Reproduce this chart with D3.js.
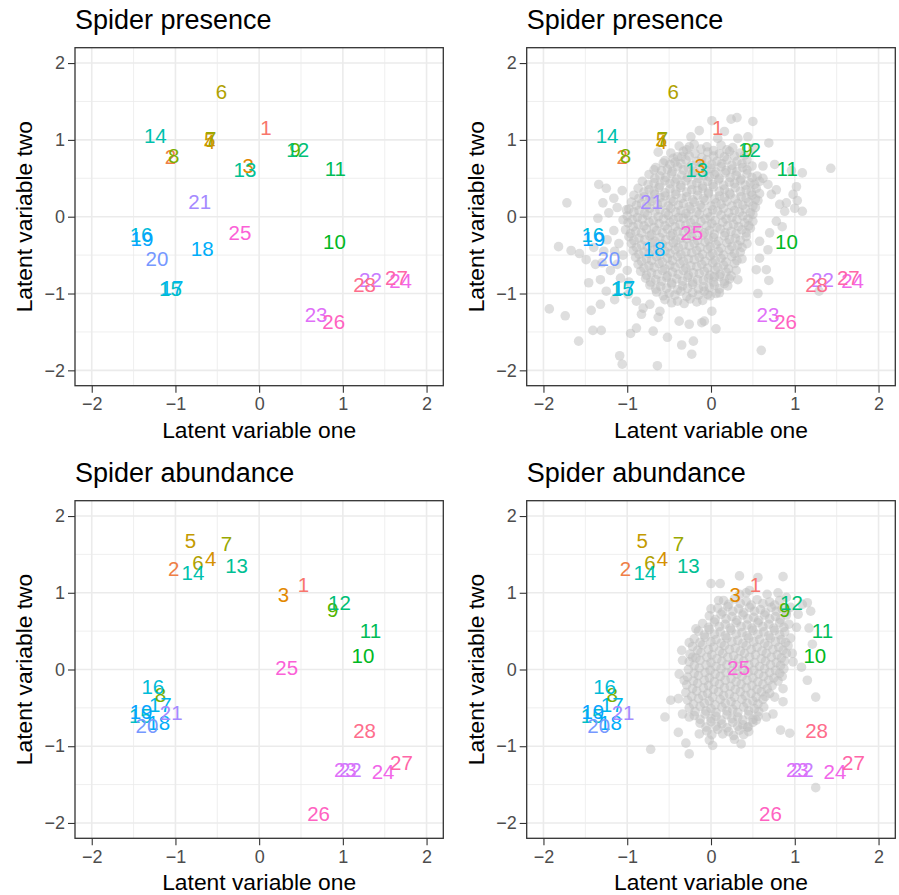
<!DOCTYPE html>
<html>
<head>
<meta charset="utf-8">
<script src="https://cdn.jsdelivr.net/npm/d3@7"></script>
<style>
  body { margin: 0; background: #ffffff; }
  svg { display: block; }
  text { font-family: "Liberation Sans", Arial, Helvetica, sans-serif; }
</style>
</head>
<body>
<svg id="chart" width="899" height="895"></svg>
<script>
// ---- data ---------------------------------------------------------------
const siteIds = [1,2,3,4,5,6,7,8,9,10,11,12,13,14,15,16,17,18,19,20,21,22,23,24,25,26,27,28];

// site scores, presence/absence ordination
const presenceX = [0.08,-1.06,-0.13,-0.59,-0.59,-0.45,-0.58,-1.02,0.43,0.90,0.91,0.46,-0.17,-1.24,
                   -1.06,-1.41,-1.04,-0.68,-1.40,-1.22,-0.71,1.33,0.68,1.69,-0.23,0.89,1.64,1.26];
const presenceY = [1.16,0.78,0.66,0.98,1.00,1.63,1.02,0.79,0.87,-0.32,0.62,0.87,0.61,1.06,
                   -0.94,-0.23,-0.92,-0.42,-0.28,-0.55,0.19,-0.82,-1.28,-0.83,-0.21,-1.36,-0.80,-0.88];

// site scores, abundance ordination
const abundanceX = [0.53,-1.02,0.29,-0.58,-0.82,-0.73,-0.39,-1.18,0.88,1.24,1.33,0.96,-0.27,-0.79,
                    -1.42,-1.27,-1.18,-1.20,-1.41,-1.34,-1.05,1.09,1.03,1.48,0.33,0.71,1.70,1.26];
const abundanceY = [1.10,1.32,0.97,1.45,1.68,1.39,1.64,-0.33,0.78,0.18,0.50,0.87,1.35,1.26,
                    -0.60,-0.22,-0.46,-0.69,-0.55,-0.73,-0.56,-1.31,-1.31,-1.33,0.03,-1.88,-1.22,-0.80];

// sampled latent scores, presence model
const presenceCloud = [
  [-1.93,-1.20],[-1.74,-1.29],[-1.58,-1.62],[-1.41,-1.48],[-1.31,-1.48],[-1.43,-1.22],[-1.32,-1.14],[-1.46,-0.86],
  [-1.32,-0.82],[-1.25,-0.97],[-1.15,-1.08],[-1.09,-1.81],[-1.06,-1.92],[-0.96,-1.52],[-0.89,-1.45],[-0.69,-1.49],
  [-0.64,-1.94],[-0.52,-1.57],[-0.35,-1.67],[-0.21,-1.62],[-0.23,-1.79],[0.06,-1.46],[0.60,-1.74],[0.56,-1.00],
  [1.29,-0.97],[1.43,0.63],
  [-1.72,0.18],[-1.82,-0.39],[-1.67,-0.44],[-1.57,-0.48],[-1.49,-0.56],[-1.34,0.42],[-1.25,0.37],[-1.16,0.24],
  [-1.29,0.18],[-1.06,0.34],[-1.35,-0.02],[-1.16,-0.18],[-1.24,-0.30],[-1.05,-0.04],[-1.01,0.09],
  [-1.10,-0.35],[-1.05,-0.50],[-1.12,-0.62],[-1.00,-0.70],[-1.08,-0.80],[-0.98,-0.85],[-1.20,-0.70],[-1.15,-0.45],
  [-1.28,-0.45],[-1.38,-0.62],[-1.30,-0.60],[-1.40,-0.40],[-1.22,0.05],[-1.12,0.12],
  [-0.63,0.84],[-0.68,0.61],[-0.57,0.70],[-0.45,0.76],[-0.35,0.78],[-0.24,1.04],[-0.14,1.12],[-0.26,0.91],
  [-0.11,-1.38],[-0.38,-1.36],[-0.26,-1.40],[-0.81,-1.19],[-0.83,-1.27],[-0.73,-1.14],[-0.63,-1.31],[-0.61,-1.23],
  [-0.99,-1.01],[-0.89,-1.10],
  [0.01,1.25],[0.24,1.27],[0.31,1.29],[0.50,1.24],[0.69,0.96],[0.62,0.66],[0.76,0.68],[0.50,0.89],[0.40,0.80],
  [0.44,1.04],[0.32,1.02],[0.16,1.11],[0.08,1.02],
  [0.96,0.60],[1.09,0.57],[1.02,0.39],[0.98,0.29],[1.03,0.21],[0.82,0.16],[0.90,0.18],[0.88,0.07],[1.00,0.11],
  [1.09,0.07],[0.62,0.50],[0.68,0.42],[0.72,0.29],[0.78,0.35],
  [0.78,-0.06],[0.85,-0.13],[0.70,-0.21],[0.58,-0.32],[0.68,-0.43],[0.58,-0.54],[0.54,-0.69],[0.66,-0.69],
  [0.69,-0.83],[0.32,-0.82],[0.20,-0.90],[0.04,-0.78],[-0.04,-1.01],[0.10,-0.99],[0.01,-1.23],[-0.08,-1.36],
  [-0.38,0.92],[-0.20,0.94],[-0.05,0.91],[0.12,0.93],[0.26,0.90],
  [-0.48,0.83],[-0.33,0.85],[-0.19,0.82],[-0.04,0.84],[0.10,0.82],[0.22,0.85],[0.35,0.83],
  [-0.55,0.73],[-0.43,0.71],[-0.30,0.74],[-0.17,0.72],[-0.05,0.74],[0.07,0.72],[0.19,0.74],[0.31,0.72],[0.43,0.74],
  [-0.66,0.64],[-0.52,0.62],[-0.40,0.65],[-0.27,0.63],[-0.13,0.65],[0.00,0.63],[0.12,0.65],[0.25,0.62],[0.38,0.64],[0.49,0.66],
  [-0.74,0.55],[-0.61,0.53],[-0.47,0.56],[-0.35,0.54],[-0.22,0.56],[-0.09,0.53],[0.04,0.55],[0.17,0.57],[0.30,0.54],[0.43,0.56],[0.55,0.53],
  [-0.82,0.46],[-0.68,0.44],[-0.55,0.47],[-0.43,0.45],[-0.30,0.47],[-0.17,0.44],[-0.04,0.46],[0.09,0.48],[0.22,0.45],[0.35,0.47],[0.47,0.44],[0.58,0.46],
  [-0.87,0.37],[-0.74,0.35],[-0.62,0.38],[-0.49,0.36],[-0.36,0.38],[-0.23,0.35],[-0.10,0.37],[0.03,0.39],[0.16,0.36],[0.29,0.38],[0.42,0.35],[0.54,0.37],
  [-0.92,0.28],[-0.80,0.26],[-0.67,0.29],[-0.55,0.27],[-0.42,0.29],[-0.29,0.26],[-0.16,0.28],[-0.03,0.30],[0.10,0.27],[0.23,0.29],[0.36,0.26],[0.49,0.28],[0.58,0.30],
  [-0.95,0.19],[-0.83,0.17],[-0.71,0.20],[-0.58,0.18],[-0.45,0.20],[-0.33,0.17],[-0.20,0.19],[-0.07,0.21],[0.06,0.18],[0.19,0.20],[0.32,0.17],[0.45,0.19],[0.56,0.21],
  [-0.98,0.10],[-0.86,0.08],[-0.73,0.11],[-0.61,0.09],[-0.48,0.11],[-0.36,0.08],[-0.24,0.10],[-0.11,0.12],[0.02,0.09],[0.15,0.11],[0.28,0.08],[0.41,0.10],[0.53,0.12],
  [-1.00,0.01],[-0.88,-0.01],[-0.76,0.02],[-0.63,0.00],[-0.51,0.02],[-0.39,-0.01],[-0.27,0.01],[-0.14,0.03],[-0.01,0.00],[0.12,0.02],[0.25,-0.01],[0.38,0.01],[0.50,0.03],
  [-0.99,-0.08],[-0.87,-0.10],[-0.74,-0.07],[-0.62,-0.09],[-0.49,-0.07],[-0.37,-0.10],[-0.24,-0.08],[-0.12,-0.06],[0.01,-0.09],[0.14,-0.07],[0.27,-0.10],[0.40,-0.08],[0.50,-0.06],
  [-1.02,-0.17],[-0.90,-0.19],[-0.77,-0.16],[-0.65,-0.18],[-0.52,-0.16],[-0.40,-0.19],[-0.27,-0.17],[-0.15,-0.15],[-0.02,-0.18],[0.11,-0.16],[0.24,-0.19],[0.37,-0.17],[0.47,-0.15],
  [-0.98,-0.26],[-0.86,-0.28],[-0.73,-0.25],[-0.61,-0.27],[-0.48,-0.25],[-0.36,-0.28],[-0.23,-0.26],[-0.10,-0.24],[0.03,-0.27],[0.16,-0.25],[0.29,-0.28],[0.42,-0.26],
  [-0.95,-0.35],[-0.83,-0.37],[-0.70,-0.34],[-0.58,-0.36],[-0.45,-0.34],[-0.33,-0.37],[-0.20,-0.35],[-0.07,-0.33],[0.06,-0.36],[0.19,-0.34],[0.32,-0.37],[0.43,-0.35],
  [-0.93,-0.44],[-0.80,-0.46],[-0.68,-0.43],[-0.55,-0.45],[-0.43,-0.43],[-0.30,-0.46],[-0.17,-0.44],[-0.04,-0.42],[0.09,-0.45],[0.22,-0.43],[0.35,-0.46],
  [-0.90,-0.53],[-0.77,-0.55],[-0.65,-0.52],[-0.52,-0.54],[-0.40,-0.52],[-0.27,-0.55],[-0.14,-0.53],[-0.01,-0.51],[0.12,-0.54],[0.25,-0.52],[0.37,-0.55],
  [-0.87,-0.62],[-0.74,-0.64],[-0.62,-0.61],[-0.49,-0.63],[-0.37,-0.61],[-0.24,-0.64],[-0.11,-0.62],[0.02,-0.60],[0.15,-0.63],[0.28,-0.61],
  [-0.84,-0.71],[-0.71,-0.73],[-0.58,-0.70],[-0.46,-0.72],[-0.33,-0.70],[-0.21,-0.73],[-0.08,-0.71],[0.05,-0.69],[0.18,-0.72],[0.30,-0.70],
  [-0.78,-0.80],[-0.66,-0.82],[-0.53,-0.79],[-0.41,-0.81],[-0.28,-0.79],[-0.16,-0.82],[-0.03,-0.80],[0.10,-0.78],[0.22,-0.81],
  [-0.73,-0.89],[-0.60,-0.91],[-0.47,-0.88],[-0.34,-0.90],[-0.22,-0.88],[-0.09,-0.91],[0.04,-0.89],[0.16,-0.87],
  [-0.65,-0.98],[-0.50,-1.00],[-0.36,-0.97],[-0.22,-0.99],[-0.08,-0.97],[0.06,-1.00],
  [-0.55,-1.08],[-0.40,-1.10],[-0.25,-1.07],[-0.10,-1.09],
  [-0.29,0.87],[-0.12,0.88],[0.03,0.86],[0.19,0.87],
  [-0.40,0.78],[-0.26,0.79],[-0.11,0.77],[0.03,0.79],[0.16,0.78],[0.28,0.79],
  [-0.49,0.68],[-0.36,0.69],[-0.23,0.67],[-0.11,0.69],[0.01,0.68],[0.13,0.69],[0.25,0.67],[0.37,0.69],
  [-0.59,0.60],[-0.46,0.59],[-0.33,0.61],[-0.20,0.59],[-0.06,0.60],[0.06,0.58],[0.18,0.60],[0.31,0.59],[0.43,0.61],
  [-0.67,0.50],[-0.54,0.51],[-0.41,0.49],[-0.28,0.51],[-0.15,0.50],[-0.02,0.52],[0.10,0.50],[0.23,0.51],[0.36,0.49],[0.49,0.51],
  [-0.75,0.42],[-0.61,0.41],[-0.49,0.43],[-0.36,0.41],[-0.23,0.42],[-0.10,0.40],[0.02,0.42],[0.15,0.41],[0.28,0.43],[0.41,0.41],[0.52,0.42],
  [-0.80,0.32],[-0.68,0.33],[-0.55,0.31],[-0.42,0.33],[-0.29,0.32],[-0.16,0.34],[-0.03,0.32],[0.10,0.33],[0.22,0.31],[0.35,0.33],[0.48,0.32],
  [-0.86,0.24],[-0.73,0.23],[-0.61,0.25],[-0.48,0.23],[-0.35,0.24],[-0.22,0.22],[-0.09,0.24],[0.04,0.23],[0.16,0.25],[0.29,0.23],[0.42,0.24],[0.53,0.23],
  [-0.89,0.15],[-0.77,0.14],[-0.64,0.16],[-0.51,0.14],[-0.39,0.15],[-0.26,0.13],[-0.13,0.15],[0.00,0.14],[0.12,0.16],[0.25,0.14],[0.38,0.15],[0.50,0.14],
  [-0.92,0.06],[-0.79,0.05],[-0.67,0.07],[-0.54,0.05],[-0.42,0.06],[-0.30,0.04],[-0.17,0.06],[-0.04,0.05],[0.08,0.07],[0.21,0.05],[0.34,0.06],[0.47,0.05],
  [-0.94,-0.04],[-0.82,-0.03],[-0.69,-0.05],[-0.57,-0.03],[-0.45,-0.04],[-0.33,-0.02],[-0.20,-0.04],[-0.07,-0.03],[0.05,-0.05],[0.18,-0.03],[0.31,-0.04],[0.44,-0.03],
  [-0.93,-0.13],[-0.80,-0.12],[-0.68,-0.14],[-0.55,-0.12],[-0.43,-0.13],[-0.30,-0.11],[-0.18,-0.13],[-0.05,-0.12],[0.07,-0.14],[0.20,-0.12],[0.33,-0.13],[0.45,-0.12],
  [-0.96,-0.22],[-0.83,-0.21],[-0.71,-0.23],[-0.58,-0.21],[-0.46,-0.22],[-0.33,-0.20],[-0.21,-0.22],[-0.08,-0.21],[0.04,-0.23],[0.17,-0.21],[0.30,-0.22],[0.42,-0.21],
  [-0.92,-0.31],[-0.79,-0.30],[-0.67,-0.32],[-0.54,-0.30],[-0.42,-0.31],[-0.29,-0.29],[-0.16,-0.31],[-0.03,-0.30],[0.09,-0.32],[0.22,-0.30],[0.35,-0.31],
  [-0.89,-0.40],[-0.76,-0.39],[-0.64,-0.41],[-0.51,-0.39],[-0.39,-0.40],[-0.26,-0.38],[-0.13,-0.40],[-0.01,-0.39],[0.12,-0.41],[0.25,-0.39],[0.37,-0.40],
  [-0.86,-0.49],[-0.74,-0.48],[-0.61,-0.50],[-0.49,-0.48],[-0.36,-0.49],[-0.23,-0.47],[-0.10,-0.49],[0.02,-0.48],[0.15,-0.50],[0.28,-0.48],
  [-0.83,-0.58],[-0.71,-0.57],[-0.58,-0.59],[-0.46,-0.57],[-0.33,-0.58],[-0.20,-0.56],[-0.07,-0.58],[0.05,-0.57],[0.18,-0.59],[0.31,-0.57],
  [-0.80,-0.67],[-0.68,-0.66],[-0.55,-0.68],[-0.43,-0.66],[-0.30,-0.67],[-0.17,-0.65],[-0.04,-0.67],[0.08,-0.66],[0.21,-0.68],
  [-0.77,-0.76],[-0.64,-0.75],[-0.52,-0.77],[-0.39,-0.75],[-0.27,-0.76],[-0.14,-0.74],[-0.01,-0.76],[0.11,-0.75],[0.24,-0.77],
  [-0.72,-0.85],[-0.59,-0.84],[-0.47,-0.86],[-0.34,-0.84],[-0.22,-0.85],[-0.09,-0.83],[0.03,-0.85],[0.16,-0.84],
  [-0.66,-0.94],[-0.53,-0.93],[-0.40,-0.95],[-0.28,-0.93],[-0.15,-0.94],[-0.02,-0.92],[0.10,-0.94],
  [-0.57,-1.03],[-0.43,-1.02],[-0.29,-1.04],[-0.15,-1.02],[-0.01,-1.03],
  [-0.47,-1.12],[-0.32,-1.13],[-0.17,-1.11]
];

// sampled latent scores, abundance model
const abundanceCloud = [
  [0.00,1.12],[0.11,1.12],[0.34,1.22],[0.56,1.20],[0.86,1.21],[0.46,1.03],[0.67,0.98],[0.80,1.00],[0.90,0.94],
  [1.09,0.85],[1.15,0.87],[1.19,0.76],[0.09,0.90],[0.34,0.98],[0.42,1.00],[0.00,0.79],[1.04,0.72],[1.02,0.55],
  [1.17,0.54],[1.21,0.33],[0.97,0.21],[0.98,0.10],[1.08,0.03],[1.15,-0.14],[1.25,-0.36],[0.86,-0.25],[0.76,-0.36],
  [0.86,-0.42],[0.74,-0.58],[0.66,-0.62],[0.54,-0.66],[0.44,-0.75],[0.83,-0.79],[0.94,-0.83],[0.28,-0.91],[0.36,-0.97],
  [0.02,-0.99],[-0.02,-0.92],[-0.14,-0.84],[-0.30,-0.96],[-0.26,-1.10],[-0.39,-0.82],[-0.34,-0.58],[-0.26,-0.62],
  [-0.55,-0.62],[-0.72,-1.04],[-0.48,-0.40],[-0.39,-0.38],[-0.38,-0.06],[-0.32,-0.14],[-0.34,0.12],[-0.22,0.16],
  [-0.35,0.25],[-0.26,0.35],[-0.18,0.53],[1.25,-1.54],
  [0.15,0.90],[0.28,0.92],[0.42,0.89],[0.55,0.91],[0.70,0.88],[0.82,0.90],
  [0.08,0.80],[0.20,0.82],[0.33,0.79],[0.46,0.81],[0.59,0.78],[0.72,0.81],[0.85,0.79],[0.95,0.81],
  [-0.02,0.70],[0.12,0.72],[0.25,0.69],[0.38,0.71],[0.51,0.68],[0.64,0.71],[0.77,0.69],[0.90,0.71],
  [-0.10,0.60],[0.04,0.62],[0.17,0.59],[0.30,0.61],[0.43,0.58],[0.56,0.61],[0.69,0.59],[0.82,0.61],[0.93,0.59],
  [-0.15,0.50],[-0.02,0.52],[0.11,0.49],[0.24,0.51],[0.37,0.48],[0.50,0.51],[0.63,0.49],[0.76,0.51],[0.88,0.49],
  [-0.20,0.40],[-0.07,0.42],[0.06,0.39],[0.19,0.41],[0.32,0.38],[0.45,0.41],[0.58,0.39],[0.71,0.41],[0.84,0.39],[0.95,0.41],
  [-0.22,0.30],[-0.10,0.32],[0.03,0.29],[0.16,0.31],[0.29,0.28],[0.42,0.31],[0.55,0.29],[0.68,0.31],[0.81,0.29],[0.92,0.31],
  [-0.25,0.20],[-0.12,0.22],[0.01,0.19],[0.14,0.21],[0.27,0.18],[0.40,0.21],[0.53,0.19],[0.66,0.21],[0.79,0.19],[0.90,0.21],
  [-0.26,0.10],[-0.13,0.12],[0.00,0.09],[0.13,0.11],[0.26,0.08],[0.39,0.11],[0.52,0.09],[0.65,0.11],[0.78,0.09],[0.88,0.11],
  [-0.27,0.00],[-0.14,0.02],[-0.01,-0.01],[0.12,0.01],[0.25,-0.02],[0.38,0.01],[0.51,-0.01],[0.64,0.01],[0.77,-0.01],[0.87,0.01],
  [-0.28,-0.10],[-0.15,-0.08],[-0.02,-0.11],[0.11,-0.09],[0.24,-0.12],[0.37,-0.09],[0.50,-0.11],[0.63,-0.09],[0.75,-0.11],[0.85,-0.09],
  [-0.29,-0.20],[-0.16,-0.18],[-0.03,-0.21],[0.10,-0.19],[0.23,-0.22],[0.36,-0.19],[0.49,-0.21],[0.62,-0.19],[0.73,-0.21],
  [-0.30,-0.30],[-0.17,-0.28],[-0.04,-0.31],[0.09,-0.29],[0.22,-0.32],[0.35,-0.29],[0.48,-0.31],[0.60,-0.29],[0.70,-0.31],
  [-0.28,-0.40],[-0.15,-0.38],[-0.02,-0.41],[0.11,-0.39],[0.24,-0.42],[0.37,-0.39],[0.50,-0.41],[0.62,-0.39],
  [-0.26,-0.50],[-0.13,-0.48],[0.00,-0.51],[0.13,-0.49],[0.26,-0.52],[0.39,-0.49],[0.52,-0.51],[0.63,-0.49],
  [-0.20,-0.60],[-0.07,-0.58],[0.06,-0.61],[0.19,-0.59],[0.32,-0.62],[0.45,-0.59],[0.56,-0.61],
  [-0.13,-0.70],[0.00,-0.68],[0.13,-0.71],[0.26,-0.69],[0.38,-0.72],[0.50,-0.69],
  [-0.05,-0.80],[0.08,-0.78],[0.21,-0.81],[0.34,-0.79],[0.45,-0.81],
  [0.21,0.85],[0.35,0.86],[0.48,0.84],[0.62,0.86],[0.76,0.84],
  [0.14,0.75],[0.26,0.76],[0.39,0.74],[0.52,0.76],[0.65,0.74],[0.78,0.76],[0.90,0.75],
  [0.05,0.65],[0.18,0.66],[0.31,0.64],[0.44,0.66],[0.57,0.64],[0.70,0.66],[0.83,0.65],
  [-0.03,0.55],[0.10,0.56],[0.23,0.54],[0.36,0.56],[0.49,0.54],[0.62,0.56],[0.75,0.54],[0.87,0.55],
  [-0.08,0.45],[0.04,0.46],[0.17,0.44],[0.30,0.46],[0.43,0.44],[0.56,0.46],[0.69,0.44],[0.82,0.45],
  [-0.13,0.35],[0.00,0.36],[0.12,0.34],[0.25,0.36],[0.38,0.34],[0.51,0.36],[0.64,0.34],[0.77,0.36],[0.89,0.35],
  [-0.16,0.25],[-0.03,0.26],[0.10,0.24],[0.22,0.26],[0.35,0.24],[0.48,0.26],[0.61,0.24],[0.74,0.26],[0.86,0.25],
  [-0.18,0.15],[-0.05,0.16],[0.07,0.14],[0.20,0.16],[0.33,0.14],[0.46,0.16],[0.60,0.14],[0.72,0.16],[0.84,0.15],
  [-0.20,0.05],[-0.06,0.06],[0.06,0.04],[0.19,0.06],[0.32,0.04],[0.45,0.06],[0.58,0.04],[0.71,0.06],[0.83,0.05],
  [-0.20,-0.05],[-0.07,-0.04],[0.05,-0.06],[0.18,-0.04],[0.31,-0.06],[0.44,-0.04],[0.57,-0.06],[0.70,-0.04],[0.82,-0.05],
  [-0.21,-0.15],[-0.08,-0.14],[0.04,-0.16],[0.17,-0.14],[0.30,-0.16],[0.43,-0.14],[0.56,-0.16],[0.69,-0.14],[0.80,-0.15],
  [-0.22,-0.25],[-0.09,-0.24],[0.03,-0.26],[0.16,-0.24],[0.29,-0.26],[0.42,-0.24],[0.55,-0.26],[0.67,-0.25],
  [-0.23,-0.35],[-0.10,-0.34],[0.02,-0.36],[0.15,-0.34],[0.28,-0.36],[0.41,-0.34],[0.54,-0.36],[0.65,-0.35],
  [-0.21,-0.45],[-0.08,-0.44],[0.05,-0.46],[0.17,-0.44],[0.30,-0.46],[0.43,-0.44],[0.56,-0.45],
  [-0.19,-0.55],[-0.06,-0.54],[0.06,-0.56],[0.19,-0.54],[0.32,-0.56],[0.45,-0.54],[0.57,-0.55],
  [-0.13,-0.65],[0.00,-0.64],[0.12,-0.66],[0.25,-0.64],[0.38,-0.66],[0.50,-0.65],
  [-0.06,-0.75],[0.06,-0.74],[0.19,-0.76],[0.32,-0.74],[0.44,-0.75],
  [0.01,-0.85],[0.14,-0.84],[0.27,-0.86],[0.39,-0.85]
];

const majorTicks = [-2, -1, 0, 1, 2];
const minorTicks = [-1.5, -0.5, 0.5, 1.5];
const tickLabels = ["\u22122", "\u22121", "0", "1", "2"];
const panelTitles = ["Spider presence", "Spider presence", "Spider abundance", "Spider abundance"];
const xAxisTitle = "Latent variable one";
const yAxisTitle = "Latent variable two";

// ---- colours: evenly spaced hues in polar CIE-LUV (l = 65, c = 100) -----
function polarLuvToHex(h, c, l) {
  const Xn = 95.047, Yn = 100.0, Zn = 108.883;
  const rad = h * Math.PI / 180;
  const U = c * Math.cos(rad), V = c * Math.sin(rad);
  const Y = l > 8 ? Yn * Math.pow((l + 16) / 116, 3) : Yn * l / 903.3;
  const den = Xn + 15 * Yn + 3 * Zn;
  const un = 4 * Xn / den, vn = 9 * Yn / den;
  const up = U / (13 * l) + un, vp = V / (13 * l) + vn;
  const X = 9 * Y * up / (4 * vp);
  const Z = -X / 3 - 5 * Y + 3 * Y / vp;
  const x = X / 100, y = Y / 100, z = Z / 100;
  const lin = [
     3.240479 * x - 1.537150 * y - 0.498535 * z,
    -0.969256 * x + 1.875992 * y + 0.041556 * z,
     0.055648 * x - 0.204043 * y + 1.057311 * z
  ];
  const gam = lin.map(v => {
    const g = v <= 0.0031308 ? 12.92 * v : 1.055 * Math.pow(v, 1 / 2.4) - 0.055;
    return Math.round(Math.max(0, Math.min(1, g)) * 255);
  });
  return d3.rgb(gam[0], gam[1], gam[2]).formatHex();
}
const siteColour = d3.scaleOrdinal()
  .domain(siteIds)
  .range(siteIds.map((d, i) => polarLuvToHex(15 + i * 360 / siteIds.length, 100, 65)));

// ---- layout ---------------------------------------------------------------
const frames = [
  { l: 75,    r: 443.3, t: 47.7,  b: 385.7 },
  { l: 526.7, r: 895.3, t: 47.7,  b: 385.7 },
  { l: 75,    r: 443.3, t: 500.7, b: 838.3 },
  { l: 526.7, r: 895.3, t: 500.7, b: 838.3 }
];
const panelSpecs = [
  { xs: presenceX,  ys: presenceY,  cloud: null },
  { xs: presenceX,  ys: presenceY,  cloud: presenceCloud },
  { xs: abundanceX, ys: abundanceY, cloud: null },
  { xs: abundanceX, ys: abundanceY, cloud: abundanceCloud }
];

const svg = d3.select("#chart");
svg.append("rect").attr("width", 899).attr("height", 895).attr("fill", "#ffffff");

panelSpecs.forEach((spec, k) => {
  const f = frames[k];
  const x = d3.scaleLinear().domain([-2.2, 2.2]).range([f.l, f.r]);
  const y = d3.scaleLinear().domain([-2.2, 2.2]).range([f.b, f.t]);
  const g = svg.append("g");

  // panel background and grid
  g.append("rect").attr("x", f.l).attr("y", f.t)
    .attr("width", f.r - f.l).attr("height", f.b - f.t).attr("fill", "#ffffff");
  const grid = g.append("g").attr("fill", "none").attr("stroke", "#EBEBEB");
  grid.selectAll(".vmin").data(minorTicks).join("line").attr("class", "vmin")
    .attr("x1", d => x(d)).attr("x2", d => x(d)).attr("y1", f.t).attr("y2", f.b)
    .attr("stroke-width", 0.8);
  grid.selectAll(".hmin").data(minorTicks).join("line").attr("class", "hmin")
    .attr("y1", d => y(d)).attr("y2", d => y(d)).attr("x1", f.l).attr("x2", f.r)
    .attr("stroke-width", 0.8);
  grid.selectAll(".vmaj").data(majorTicks).join("line").attr("class", "vmaj")
    .attr("x1", d => x(d)).attr("x2", d => x(d)).attr("y1", f.t).attr("y2", f.b)
    .attr("stroke-width", 1.6);
  grid.selectAll(".hmaj").data(majorTicks).join("line").attr("class", "hmaj")
    .attr("y1", d => y(d)).attr("y2", d => y(d)).attr("x1", f.l).attr("x2", f.r)
    .attr("stroke-width", 1.6);

  // grey cloud of sampled scores
  if (spec.cloud) {
    g.append("g").selectAll("circle").data(spec.cloud).join("circle")
      .attr("cx", d => x(d[0])).attr("cy", d => y(d[1]))
      .attr("r", 4.8)
      .attr("fill", "#BEBEBE")
      .attr("fill-opacity", 0.5);
  }

  // site labels
  const fs = 20.5;
  g.append("g").selectAll("text").data(siteIds).join("text")
    .attr("x", (d, i) => x(spec.xs[i]))
    .attr("y", (d, i) => y(spec.ys[i]) + 0.358 * fs)
    .attr("text-anchor", "middle")
    .attr("font-size", fs)
    .attr("fill", d => siteColour(d))
    .text(d => d);

  // border
  g.append("rect").attr("x", f.l).attr("y", f.t)
    .attr("width", f.r - f.l).attr("height", f.b - f.t)
    .attr("fill", "none").attr("stroke", "#333333").attr("stroke-width", 1.3);

  // axes
  const xAxis = d3.axisBottom(x).tickValues(majorTicks).tickSize(7).tickPadding(4.5)
    .tickFormat((d, i) => tickLabels[i]);
  const yAxis = d3.axisLeft(y).tickValues(majorTicks).tickSize(7).tickPadding(3)
    .tickFormat((d, i) => tickLabels[i]);
  const gx = g.append("g").attr("transform", `translate(0,${f.b})`).call(xAxis);
  const gy = g.append("g").attr("transform", `translate(${f.l},0)`).call(yAxis);
  [gx, gy].forEach(a => {
    a.select(".domain").remove();
    a.selectAll(".tick line").attr("stroke", "#333333").attr("stroke-width", 1.1);
    a.selectAll(".tick text").attr("fill", "#4D4D4D").attr("font-size", 18)
      .attr("font-family", "'Liberation Sans', Arial, Helvetica, sans-serif");
  });

  // titles
  g.append("text").attr("x", f.l).attr("y", f.t - 19)
    .attr("font-size", 27).attr("fill", "#000000").text(panelTitles[k]);
  g.append("text").attr("x", (f.l + f.r) / 2).attr("y", f.b + 52)
    .attr("text-anchor", "middle").attr("font-size", 22.8).attr("fill", "#000000")
    .text(xAxisTitle);
  g.append("text")
    .attr("transform", `translate(${f.l - 43},${(f.t + f.b) / 2}) rotate(-90)`)
    .attr("text-anchor", "middle").attr("font-size", 22.8).attr("fill", "#000000")
    .text(yAxisTitle);
});
</script>
</body>
</html>
